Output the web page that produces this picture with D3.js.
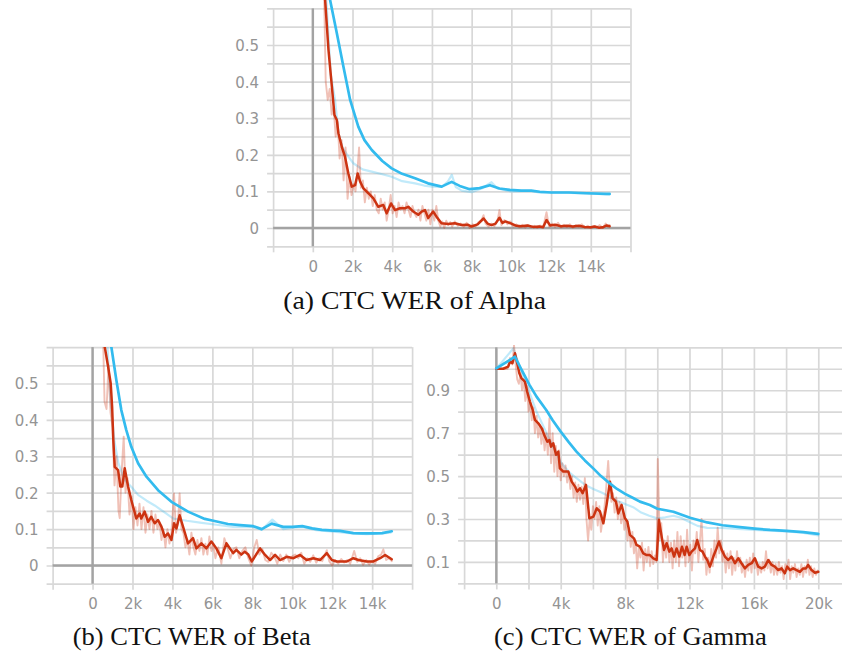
<!DOCTYPE html>
<html>
<head>
<meta charset="utf-8">
<script src="https://cdn.jsdelivr.net/npm/d3@7"></script>
<style>
  html, body { margin: 0; padding: 0; background: #fff; }
  svg { display: block; }
  .tick text { font-family: "DejaVu Sans", sans-serif; font-size: 15px; fill: #949494; }
  .caption { font-family: "Liberation Serif", "Times New Roman", serif; font-size: 26px; fill: #111; }
</style>
</head>
<body>
<svg id="fig" width="842" height="652"></svg>
<script>
// ---------- Alpha: [step, WER] ----------
const alphaBlueSmooth = [[500,0.9],[870,0.623],[1210,0.532],[1540,0.441],[1880,0.35],[2290,0.277],[2600,0.24],[2970,0.213],[3500,0.183],[3970,0.163],[4500,0.148],[5150,0.136],[5800,0.122],[6490,0.113],[6990,0.126],[7400,0.115],[7900,0.106],[8400,0.109],[8920,0.117],[9400,0.108],[9920,0.104],[10500,0.102],[11000,0.102],[11430,0.099],[12000,0.097],[12900,0.097],[13800,0.095],[14780,0.093],[14950,0.093]];
const alphaBlueRaw = [[600,0.7],[900,0.42],[1120,0.35],[1290,0.259],[1500,0.22],[1790,0.195],[2040,0.177],[2500,0.16],[2970,0.154],[3500,0.147],[3970,0.14],[4500,0.128],[5150,0.122],[5600,0.116],[6000,0.113],[6490,0.112],[6800,0.127],[7000,0.145],[7200,0.112],[7500,0.102],[8000,0.098],[8500,0.108],[9000,0.125],[9300,0.108],[9700,0.103],[10000,0.1],[10500,0.101],[11000,0.101],[11500,0.096],[12000,0.097],[13000,0.096],[14000,0.094],[14950,0.092]];
const alphaRedSmooth = [[0,0.98],[300,0.86],[500,0.72],[620,0.623],[790,0.486],[960,0.386],[1090,0.309],[1210,0.295],[1290,0.259],[1460,0.222],[1620,0.195],[1790,0.149],[1960,0.113],[2130,0.117],[2260,0.149],[2380,0.127],[2550,0.108],[2800,0.095],[3050,0.081],[3300,0.058],[3550,0.063],[3720,0.04],[3940,0.067],[4140,0.049],[4390,0.054],[4640,0.054],[4810,0.058],[5060,0.045],[5310,0.036],[5480,0.045],[5650,0.049],[5810,0.027],[6060,0.045],[6230,0.031],[6480,0.013],[6820,0.011],[7150,0.013],[7500,0.008],[7800,0.009],[8000,0.004],[8300,0.01],[8600,0.026],[8800,0.012],[9000,0.008],[9200,0.012],[9400,0.028],[9550,0.014],[9700,0.018],[10000,0.012],[10250,0.006],[10500,0.005],[10800,0.007],[11100,0.003],[11400,0.004],[11600,0.002],[11770,0.022],[11950,0.007],[12200,0.009],[12500,0.005],[12800,0.006],[13100,0.004],[13400,0.006],[13700,0.003],[14000,0.002],[14200,0.004],[14400,0.001],[14600,0.002],[14800,0.007],[14950,0.005]];
const alphaRedRaw = [[550,0.7],[650,0.4],[750,0.35],[850,0.38],[950,0.31],[1050,0.33],[1150,0.25],[1250,0.29],[1350,0.19],[1450,0.24],[1550,0.13],[1650,0.22],[1750,0.08],[1850,0.14],[1950,0.09],[2050,0.12],[2150,0.1],[2250,0.16],[2330,0.22],[2420,0.11],[2520,0.13],[2620,0.07],[2720,0.11],[2820,0.08],[2920,0.1],[3020,0.06],[3120,0.09],[3220,0.05],[3320,0.04],[3420,0.08],[3520,0.05],[3620,0.07],[3720,0.02],[3820,0.05],[3920,0.09],[4020,0.04],[4120,0.06],[4220,0.03],[4320,0.07],[4420,0.05],[4520,0.06],[4620,0.04],[4720,0.07],[4820,0.05],[4920,0.03],[5020,0.06],[5120,0.04],[5220,0.03],[5320,0.05],[5420,0.02],[5520,0.06],[5620,0.04],[5720,0.02],[5820,0.05],[5920,0.01],[6020,0.05],[6120,0.02],[6220,0.06],[6320,0.02],[6420,0.004],[6520,0.018],[6620,0.0],[6720,0.02],[6820,0.008],[6920,0.016],[7020,0.004],[7150,0.018],[7300,0.006],[7450,0.012],[7600,0.003],[7750,0.014],[7900,0.0],[8050,0.01],[8200,0.004],[8350,0.016],[8500,0.022],[8600,0.035],[8700,0.012],[8850,0.004],[9000,0.012],[9150,0.005],[9300,0.02],[9400,0.049],[9500,0.008],[9650,0.022],[9800,0.01],[9950,0.018],[10100,0.004],[10250,0.01],[10400,0.002],[10550,0.009],[10700,0.001],[10850,0.008],[11000,0.002],[11150,0.006],[11300,0.0],[11450,0.007],[11600,0.002],[11770,0.043],[11900,0.004],[12050,0.012],[12200,0.003],[12350,0.014],[12500,0.002],[12650,0.009],[12800,0.003],[12950,0.01],[13100,0.001],[13250,0.008],[13400,0.004],[13550,0.01],[13700,0.001],[13850,0.006],[14000,0.0],[14150,0.005],[14300,0.002],[14450,0.008],[14600,0.0],[14750,0.012],[14850,0.004],[14950,0.008]];

// ---------- Beta ----------
const betaBlueSmooth = [[500,0.85],[940,0.601],[1190,0.51],[1440,0.427],[1690,0.372],[1940,0.326],[2280,0.281],[2700,0.244],[3280,0.207],[3950,0.175],[4780,0.148],[5620,0.128],[6050,0.123],[6780,0.114],[7390,0.111],[8050,0.108],[8470,0.1],[8970,0.115],[9550,0.106],[10000,0.106],[10500,0.108],[11000,0.102],[11480,0.098],[12060,0.096],[12390,0.095],[13060,0.089],[13500,0.088],[14060,0.088],[14500,0.089],[14980,0.094]];
const betaBlueRaw = [[600,0.75],[900,0.45],[1100,0.34],[1300,0.28],[1610,0.235],[1960,0.215],[2280,0.194],[2710,0.178],[3110,0.165],[3500,0.15],[4050,0.129],[4720,0.123],[5380,0.118],[6200,0.112],[7050,0.106],[8050,0.106],[8470,0.098],[9000,0.126],[9550,0.1],[10000,0.104],[10550,0.106],[11200,0.097],[12060,0.093],[13000,0.088],[13730,0.086],[14500,0.088],[14930,0.09]];
const betaRedSmooth = [[0,1.0],[300,0.85],[610,0.601],[780,0.546],[910,0.5],[980,0.436],[1040,0.345],[1110,0.271],[1280,0.262],[1390,0.217],[1490,0.217],[1610,0.267],[1780,0.217],[1940,0.18],[2190,0.129],[2360,0.143],[2440,0.129],[2610,0.148],[2780,0.12],[2940,0.134],[3110,0.116],[3280,0.125],[3450,0.107],[3610,0.079],[3780,0.088],[3950,0.07],[4080,0.116],[4200,0.102],[4360,0.138],[4530,0.107],[4780,0.061],[5030,0.075],[5200,0.047],[5450,0.061],[5700,0.047],[5950,0.066],[6200,0.047],[6450,0.02],[6700,0.061],[7040,0.034],[7200,0.043],[7450,0.03],[7620,0.038],[7800,0.03],[7970,0.011],[8390,0.047],[8640,0.029],[8890,0.015],[9140,0.029],[9390,0.015],[9720,0.024],[10060,0.02],[10390,0.029],[10720,0.015],[11060,0.02],[11390,0.015],[11730,0.034],[11980,0.015],[12230,0.011],[12730,0.011],[13060,0.02],[13310,0.015],[13730,0.011],[14060,0.011],[14400,0.02],[14650,0.029],[14980,0.017]];
const betaRedRaw = [[500,0.7],[600,0.45],[700,0.43],[800,0.55],[900,0.42],[1000,0.38],[1100,0.22],[1200,0.3],[1300,0.15],[1360,0.13],[1450,0.25],[1560,0.354],[1650,0.2],[1750,0.24],[1850,0.14],[1950,0.19],[2050,0.1],[2150,0.16],[2250,0.11],[2350,0.17],[2450,0.1],[2550,0.16],[2650,0.09],[2750,0.14],[2850,0.1],[2950,0.15],[3050,0.09],[3150,0.14],[3250,0.1],[3350,0.12],[3450,0.07],[3550,0.1],[3650,0.05],[3750,0.1],[3850,0.06],[3950,0.09],[4080,0.198],[4180,0.09],[4280,0.12],[4360,0.198],[4450,0.1],[4550,0.09],[4650,0.05],[4750,0.07],[4850,0.03],[4950,0.09],[5050,0.05],[5150,0.03],[5250,0.07],[5350,0.04],[5450,0.075],[5550,0.03],[5650,0.06],[5750,0.03],[5850,0.08],[5950,0.04],[6050,0.06],[6150,0.02],[6300,0.05],[6450,0.005],[6600,0.075],[6750,0.05],[6900,0.02],[7050,0.045],[7200,0.05],[7350,0.02],[7500,0.04],[7650,0.05],[7800,0.02],[7950,0.0],[8100,0.05],[8220,0.07],[8350,0.03],[8500,0.045],[8650,0.015],[8800,0.01],[8950,0.035],[9100,0.025],[9250,0.005],[9400,0.03],[9550,0.012],[9700,0.03],[9850,0.01],[10000,0.025],[10150,0.03],[10300,0.02],[10450,0.035],[10600,0.005],[10750,0.02],[10900,0.01],[11050,0.028],[11200,0.008],[11350,0.02],[11500,0.012],[11730,0.042],[11850,0.012],[12000,0.0],[12150,0.015],[12300,0.005],[12450,0.018],[12600,0.008],[12750,0.015],[12900,0.005],[13100,0.04],[13250,0.01],[13400,0.02],[13550,0.002],[13700,0.015],[13850,0.003],[14000,0.012],[14150,0.005],[14300,0.025],[14450,0.03],[14560,0.044],[14700,0.015],[14850,0.02],[14980,0.012]];

// ---------- Gamma ----------
const gammaBlueSmooth = [[0,1.002],[1160,1.056],[1500,1.005],[2060,0.925],[2500,0.87],[3100,0.808],[3500,0.76],[4000,0.707],[4500,0.658],[4980,0.614],[5500,0.573],[6020,0.536],[6500,0.5],[7050,0.466],[7500,0.44],[8000,0.417],[8500,0.398],[8920,0.381],[9540,0.365],[10000,0.348],[11000,0.334],[12030,0.306],[13100,0.284],[14050,0.271],[15130,0.262],[16050,0.255],[17000,0.249],[18030,0.245],[19070,0.239],[20000,0.231]];
const gammaBlueRaw = [[0,1.0],[1060,1.095],[1500,1.0],[2000,0.9],[2500,0.8],[3000,0.72],[3500,0.64],[4000,0.565],[4500,0.52],[4980,0.49],[5500,0.46],[6020,0.44],[6500,0.425],[7050,0.405],[7500,0.385],[8000,0.37],[8500,0.355],[9000,0.33],[9500,0.315],[10000,0.303],[10500,0.308],[11000,0.315],[11500,0.305],[12030,0.285],[12500,0.268],[13100,0.259],[14000,0.258],[15000,0.254],[16000,0.249],[17000,0.246],[18000,0.242],[19000,0.236],[20000,0.224]];
const gammaRedSmooth = [[0,1.0],[430,1.0],[740,1.01],[850,1.033],[1000,1.026],[1160,1.072],[1300,1.026],[1430,0.979],[1570,0.955],[1780,0.94],[1920,0.893],[2090,0.847],[2260,0.808],[2400,0.762],[2610,0.746],[2820,0.723],[3020,0.684],[3170,0.66],[3300,0.668],[3400,0.637],[3540,0.653],[3710,0.599],[3850,0.614],[3950,0.536],[4160,0.521],[4470,0.521],[4680,0.474],[4890,0.451],[5030,0.428],[5200,0.443],[5360,0.42],[5570,0.459],[5780,0.303],[6030,0.311],[6240,0.35],[6440,0.335],[6650,0.28],[6850,0.366],[7060,0.474],[7220,0.397],[7430,0.381],[7580,0.326],[7780,0.366],[7990,0.303],[8140,0.288],[8300,0.226],[8550,0.21],[8710,0.179],[8920,0.171],[9130,0.14],[9340,0.132],[9540,0.132],[9750,0.117],[9960,0.109],[10100,0.296],[10270,0.218],[10420,0.156],[10580,0.187],[10750,0.148],[10890,0.163],[11040,0.125],[11200,0.163],[11370,0.125],[11530,0.171],[11700,0.132],[11820,0.171],[11990,0.132],[12130,0.148],[12340,0.163],[12480,0.202],[12650,0.156],[12810,0.148],[12960,0.125],[13100,0.109],[13270,0.078],[13480,0.125],[13680,0.163],[13830,0.195],[14000,0.156],[14200,0.125],[14410,0.109],[14610,0.125],[14820,0.094],[15030,0.117],[15230,0.094],[15440,0.07],[15650,0.086],[15860,0.094],[16060,0.117],[16270,0.078],[16480,0.07],[16680,0.078],[16890,0.109],[17100,0.086],[17300,0.078],[17510,0.062],[17720,0.07],[17920,0.047],[18070,0.078],[18240,0.062],[18440,0.07],[18650,0.062],[18860,0.054],[19060,0.07],[19230,0.07],[19370,0.086],[19580,0.062],[19790,0.05],[20000,0.054]];
const gammaRedRaw = [[0,1.0],[400,1.0],[700,1.0],[850,1.05],[1000,1.02],[1100,1.11],[1200,1.02],[1300,0.95],[1400,0.93],[1500,0.98],[1600,0.9],[1700,0.95],[1800,0.85],[1900,0.92],[2000,0.8],[2100,0.84],[2200,0.76],[2300,0.82],[2400,0.7],[2500,0.78],[2600,0.68],[2700,0.74],[2800,0.65],[2900,0.72],[3000,0.62],[3100,0.7],[3200,0.6],[3300,0.77],[3400,0.56],[3500,0.7],[3600,0.52],[3700,0.64],[3800,0.5],[3900,0.62],[4000,0.48],[4100,0.56],[4200,0.5],[4300,0.55],[4400,0.47],[4500,0.52],[4600,0.44],[4700,0.5],[4800,0.4],[4900,0.47],[5000,0.38],[5100,0.46],[5200,0.39],[5300,0.45],[5400,0.37],[5500,0.49],[5600,0.3],[5700,0.2],[5800,0.3],[5900,0.25],[6000,0.36],[6100,0.3],[6200,0.38],[6300,0.27],[6400,0.36],[6500,0.24],[6600,0.3],[6700,0.34],[6800,0.42],[6950,0.57],[7050,0.44],[7150,0.38],[7250,0.42],[7350,0.33],[7450,0.4],[7550,0.3],[7650,0.38],[7750,0.28],[7850,0.34],[7950,0.25],[8050,0.3],[8150,0.2],[8250,0.26],[8350,0.17],[8450,0.24],[8550,0.14],[8650,0.2],[8750,0.07],[8850,0.17],[8950,0.12],[9050,0.19],[9150,0.06],[9250,0.16],[9350,0.1],[9450,0.17],[9550,0.08],[9650,0.15],[9750,0.09],[9850,0.13],[9950,0.1],[10030,0.58],[10150,0.2],[10250,0.28],[10350,0.1],[10450,0.2],[10550,0.12],[10650,0.22],[10750,0.1],[10850,0.19],[10950,0.07],[11050,0.2],[11150,0.1],[11250,0.24],[11350,0.08],[11450,0.22],[11550,0.12],[11650,0.2],[11750,0.08],[11850,0.25],[11950,0.1],[12050,0.18],[12150,0.06],[12250,0.2],[12350,0.14],[12450,0.24],[12550,0.1],[12650,0.2],[12750,0.3],[12850,0.11],[12950,0.16],[13050,0.04],[13150,0.12],[13250,0.05],[13350,0.16],[13450,0.08],[13550,0.2],[13650,0.12],[13750,0.26],[13850,0.14],[13950,0.2],[14050,0.1],[14150,0.15],[14250,0.05],[14350,0.14],[14450,0.07],[14550,0.15],[14650,0.04],[14750,0.12],[14850,0.06],[14950,0.15],[15050,0.08],[15150,0.12],[15250,0.05],[15350,0.09],[15450,0.03],[15550,0.11],[15650,0.06],[15750,0.12],[15850,0.05],[15950,0.14],[16050,0.07],[16150,0.1],[16250,0.04],[16350,0.09],[16450,0.05],[16550,0.1],[16650,0.06],[16750,0.15],[16850,0.07],[16950,0.11],[17050,0.05],[17150,0.1],[17250,0.04],[17350,0.09],[17450,0.04],[17550,0.1],[17650,0.05],[17750,0.08],[17850,0.02],[17950,0.09],[18050,0.06],[18150,0.11],[18250,0.02],[18350,0.08],[18450,0.05],[18550,0.09],[18650,0.03],[18750,0.07],[18850,0.04],[18950,0.09],[19050,0.03],[19150,0.08],[19250,0.05],[19350,0.11],[19450,0.04],[19550,0.08],[19650,0.03],[19750,0.07],[19850,0.04],[19950,0.06]];

// ---------- ticks and captions ----------
const shortXGrid = [-2000,0,2000,4000,6000,8000,10000,12000,14000,16000];
const shortXLabels = [0,2000,4000,6000,8000,10000,12000,14000];
const longXGrid = [-2000,0,2000,4000,6000,8000,10000,12000,14000,16000,18000,20000];
const longXLabels = [0,4000,8000,12000,16000,20000];
const lowYGrid = [-0.05,0,0.05,0.1,0.15,0.2,0.25,0.3,0.35,0.4,0.45,0.5,0.55,0.6];
const lowYLabels = [0,0.1,0.2,0.3,0.4,0.5];
const highYGrid = [0,0.1,0.2,0.3,0.4,0.5,0.6,0.7,0.8,0.9,1.0,1.1];
const highYLabels = [0.1,0.3,0.5,0.7,0.9];
const captions = ["(a) CTC WER of Alpha", "(b) CTC WER of Beta", "(c) CTC WER of Gamma"];

const RED = "#cc3311", BLUE = "#33bbee";
const svg = d3.select("#fig");

const panels = [
  { id: "alpha", xd: [-2000,16000], xr: [273.1,630.5], yd: [-0.05,0.6], yr: [246.3,8.4],
    gridRight: 630.5, clipTop: 0, xGrid: shortXGrid, xLab: shortXLabels, yGrid: lowYGrid, yLab: lowYLabels,
    zeroH: true, blueS: alphaBlueSmooth, blueR: alphaBlueRaw, redS: alphaRedSmooth, redR: alphaRedRaw,
    cap: captions[0], capX: 283.3, capY: 309, capW: 262.7 },
  { id: "beta", xd: [-2000,16000], xr: [52.6,412.1], yd: [-0.05,0.6], yr: [583.7,347.1],
    gridRight: 412.1, clipTop: 347.1, xGrid: shortXGrid, xLab: shortXLabels, yGrid: lowYGrid, yLab: lowYLabels,
    zeroH: true, blueS: betaBlueSmooth, blueR: betaBlueRaw, redS: betaRedSmooth, redR: betaRedRaw,
    cap: captions[1], capX: 72.7, capY: 645, capW: 238 },
  { id: "gamma", xd: [-2000,20000], xr: [464.1,818.3], yd: [0,1.1], yr: [583.4,347.3],
    gridRight: 842, clipTop: 345, xGrid: longXGrid, xLab: longXLabels, yGrid: highYGrid, yLab: highYLabels,
    zeroH: false, blueS: gammaBlueSmooth, blueR: gammaBlueRaw, redS: gammaRedSmooth, redR: gammaRedRaw,
    cap: captions[2], capX: 494, capY: 645, capW: 272.7 }
];

const kFmt = d => d === 0 ? "0" : (d / 1000) + "k";
const yFmt = d => d === 0 ? "0" : d.toFixed(1);
const TICK = 6;

panels.forEach(p => {
  const x = d3.scaleLinear().domain(p.xd).range(p.xr);
  const y = d3.scaleLinear().domain(p.yd).range(p.yr);
  const left = p.xr[0], bottom = p.yr[0], top = p.yr[1], right = p.gridRight;
  const g = svg.append("g").attr("class", p.id);

  // horizontal grid (with short ticks to the left) and y labels
  const yAxis = d3.axisLeft(y).tickValues(p.yGrid)
    .tickSize(-(right - left + TICK)).tickPadding(8)
    .tickFormat(d => p.yLab.some(v => Math.abs(v - d) < 1e-9) ? yFmt(d) : "");
  const ya = g.append("g").attr("transform", `translate(${left - TICK},0)`).call(yAxis);
  ya.select(".domain").remove();
  ya.selectAll(".tick line").attr("stroke", "#d8d8d8").attr("stroke-width", 1.7);
  ya.selectAll(".tick text").attr("dy", "0.36em");

  // vertical grid (with short ticks below) and x labels
  const xAxis = d3.axisBottom(x).tickValues(p.xGrid)
    .tickSize(-(bottom + TICK - top)).tickPadding(9)
    .tickFormat(d => p.xLab.includes(d) ? kFmt(d) : "");
  const xa = g.append("g").attr("transform", `translate(0,${bottom + TICK})`).call(xAxis);
  xa.select(".domain").remove();
  xa.selectAll(".tick line").attr("stroke", "#d8d8d8").attr("stroke-width", 1.7);

  // zero lines
  g.append("line").attr("x1", x(0)).attr("x2", x(0)).attr("y1", top).attr("y2", bottom)
    .attr("stroke", "#a3a3a3").attr("stroke-width", 2.4);
  if (p.zeroH) {
    g.append("line").attr("x1", left).attr("x2", right).attr("y1", y(0)).attr("y2", y(0))
      .attr("stroke", "#a3a3a3").attr("stroke-width", 2.4);
  }

  // series, clipped to the plotting area
  const clipId = "clip-" + p.id;
  svg.append("clipPath").attr("id", clipId).append("rect")
    .attr("x", left).attr("y", p.clipTop).attr("width", right - left).attr("height", bottom - p.clipTop);
  const lg = g.append("g").attr("clip-path", `url(#${clipId})`);
  const line = d3.line().x(d => x(d[0])).y(d => y(d[1]));
  const draw = (data, color, width, opacity) =>
    lg.append("path").datum(data).attr("d", line).attr("fill", "none")
      .attr("stroke", color).attr("stroke-width", width).attr("stroke-opacity", opacity)
      .attr("stroke-linejoin", "round").attr("stroke-linecap", "round");
  draw(p.blueR, BLUE, 2.2, 0.3);
  draw(p.redR, RED, 1.9, 0.3);
  draw(p.redS, RED, 2.5, 1);
  draw(p.blueS, BLUE, 2.7, 1);

  // caption
  svg.append("text").attr("class", "caption").attr("x", p.capX).attr("y", p.capY)
    .attr("textLength", p.capW).attr("lengthAdjust", "spacingAndGlyphs").text(p.cap);
});
</script>
</body>
</html>
